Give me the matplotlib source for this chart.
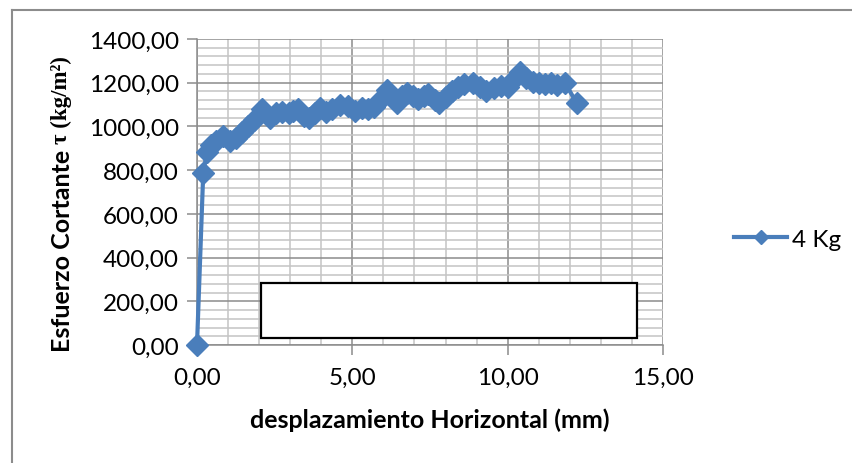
import numpy as np
import matplotlib.pyplot as plt
from matplotlib.lines import Line2D
from matplotlib.patches import Rectangle

# desplazamiento horizontal (mm) y esfuerzo cortante (kg/m2), serie 4 Kg
desplazamiento = [0.00, 0.20, 0.32, 0.45, 0.60, 0.84, 1.06, 1.25, 1.45, 1.65,
                  1.85, 2.10, 2.35, 2.55, 2.75, 2.95, 3.10, 3.25, 3.45, 3.62,
                  3.80, 3.96, 4.15, 4.35, 4.60, 4.85, 5.10, 5.30, 5.50, 5.70,
                  5.90, 6.10, 6.30, 6.44, 6.60, 6.75, 6.95, 7.10, 7.30, 7.45,
                  7.65, 7.80, 8.00, 8.20, 8.40, 8.60, 8.90, 9.10, 9.30, 9.55,
                  9.80, 10.00, 10.20, 10.40, 10.60, 10.80, 11.00, 11.20, 11.40,
                  11.60, 11.85, 12.23]
esfuerzo = [0, 785, 885, 915, 935, 955, 932, 945, 975, 1000,
            1030, 1078, 1040, 1060, 1065, 1060, 1070, 1078, 1050, 1038,
            1060, 1085, 1065, 1080, 1098, 1095, 1072, 1085, 1082, 1090,
            1120, 1165, 1130, 1105, 1140, 1155, 1140, 1125, 1140, 1150,
            1120, 1107, 1135, 1160, 1180, 1195, 1200, 1180, 1162, 1175,
            1185, 1180, 1215, 1250, 1220, 1205, 1200, 1195, 1200, 1190,
            1198, 1105]
serie = "4 Kg"

azul = "#4a7ebb"
W, H = 852, 464

plt.rcParams['font.family'] = ['Lato', 'DejaVu Sans']

fig = plt.figure(figsize=(W / 100, H / 100), dpi=100)
ax = fig.add_axes([197 / W, 1 - 346 / H, (663 - 197) / W, (346 - 40) / H])

ax.plot(desplazamiento, esfuerzo, color=azul, lw=3, marker='D', ms=11,
        mfc=azul, mec=azul, zorder=3, clip_on=False)

ax.set_xlim(0, 15)
ax.set_ylim(0, 1400)
ax.set_xticks(np.arange(0, 15.1, 5))
ax.set_xticks(np.arange(0, 15.1, 1), minor=True)
ax.set_yticks(np.arange(0, 1401, 200))
ax.set_yticks(np.arange(0, 1401, 40), minor=True)
ax.set_xticklabels([f"{v:.2f}".replace('.', ',') for v in ax.get_xticks()], fontsize=17.5)
ax.set_yticklabels([f"{v:.2f}".replace('.', ',') for v in ax.get_yticks()], fontsize=17.5)

ax.grid(which='major', color='#8c8c8c', lw=1.1)
ax.grid(which='minor', color='#c4c4c4', lw=1.1)
ax.set_axisbelow(True)
ax.tick_params(which='major', direction='out', length=7, color='#8c8c8c', width=1.1)
ax.tick_params(axis='x', which='major', pad=9)
ax.tick_params(axis='y', which='major', pad=6)
ax.tick_params(which='minor', length=0)
for s in ['top', 'right']:
    ax.spines[s].set_visible(False)
for s in ['left', 'bottom']:
    ax.spines[s].set_color('#8c8c8c')
    ax.spines[s].set_linewidth(1.1)

# cuadro de texto vacio
ax.add_patch(Rectangle((2.06, 32), 14.16 - 2.06, 284 - 32, facecolor='white',
                       edgecolor='black', lw=1.6, zorder=2))

ax.set_xlabel("desplazamiento Horizontal (mm)", fontsize=18, fontweight='bold', labelpad=14)

# etiqueta eje y en dos partes (sans + serif)
t1 = fig.text(63 / W, 1 - 352 / H, "Esfuerzo Cortante ", rotation=90, ha='center',
              va='bottom', fontsize=18, fontweight='bold')
fig.canvas.draw()
bb = t1.get_window_extent()
fig.text(61 / W, bb.y1 / H, "τ (kg/m²)", rotation=90, ha='center', va='bottom',
         fontsize=16.5, fontweight='bold', family=['Liberation Serif', 'DejaVu Serif'])

# leyenda
h = Line2D([], [], color=azul, lw=3, marker='D', ms=7, mfc=azul, mec=azul)
fig.legend([h], [serie], loc='center left', bbox_to_anchor=(734 / W, 1 - 240 / H),
           frameon=False, fontsize=17.5, handlelength=2.2, handletextpad=0.2,
           borderpad=0, borderaxespad=0)

# borde del grafico
fig.add_artist(Line2D([12 / W, 12 / W], [0, 1 - 11 / H], color='#8c8c8c', lw=1.5))
fig.add_artist(Line2D([12 / W, 1], [1 - 11 / H, 1 - 11 / H], color='#8c8c8c', lw=1.5))

fig.savefig("out.png", dpi=100)
